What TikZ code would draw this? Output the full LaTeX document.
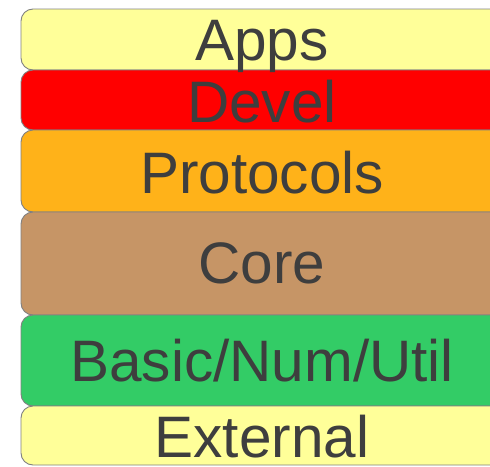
\documentclass[tikz,border=0pt]{standalone}
\usepackage{fontspec}
\setmainfont{Liberation Sans}
\definecolor{layerYellow}{RGB}{255,255,153}
\definecolor{layerRed}{RGB}{255,0,0}
\definecolor{layerOrange}{RGB}{255,178,25}
\definecolor{layerBrown}{RGB}{198,149,102}
\definecolor{layerGreen}{RGB}{51,204,102}
\definecolor{layerText}{RGB}{62,62,62}
\definecolor{layerEdge}{RGB}{128,128,128}
\begin{document}
\begin{tikzpicture}[x=1pt,y=-1pt,
  layer/.style={draw=layerEdge, line width=0.9pt, rounded corners=12pt,
    inner sep=0pt, outer sep=0pt, anchor=north west, minimum width=500pt},
  caption/.style={anchor=base, text=layerText, inner sep=0pt, text depth=0pt,
    font=\fontsize{58.5}{60}\selectfont}]
  \useasboundingbox (0,0) rectangle (490,466);
  \clip (0,0) rectangle (490,466);
  % stacked layers, top to bottom
  \node[layer, fill=layerYellow, minimum height=61pt] (apps)  at (21,9)   {};
  \node[layer, fill=layerRed,    minimum height=60pt] (devel) at (21,70)  {};
  \node[layer, fill=layerOrange, minimum height=82pt] (proto) at (21,130) {};
  \node[layer, fill=layerBrown,  minimum height=103pt] (core) at (21,212) {};
  \node[layer, fill=layerGreen,  minimum height=91pt] (basic) at (21,315) {};
  \node[layer, fill=layerYellow, minimum height=59pt] (ext)   at (21,406) {};
  % layer names
  \node[caption] (tapps)  at (262,60)  {Apps};
  \node[caption] (tdevel) at (262,122) {Devel};
  \node[caption] (tproto) at (262,193) {Protocols};
  \node[caption] (tcore)  at (262,283) {Core};
  \node[caption] (tbasic) at (262,381) {Basic/Num/Util};
  \node[caption] (text)   at (262,457) {External};
\end{tikzpicture}
\end{document}
